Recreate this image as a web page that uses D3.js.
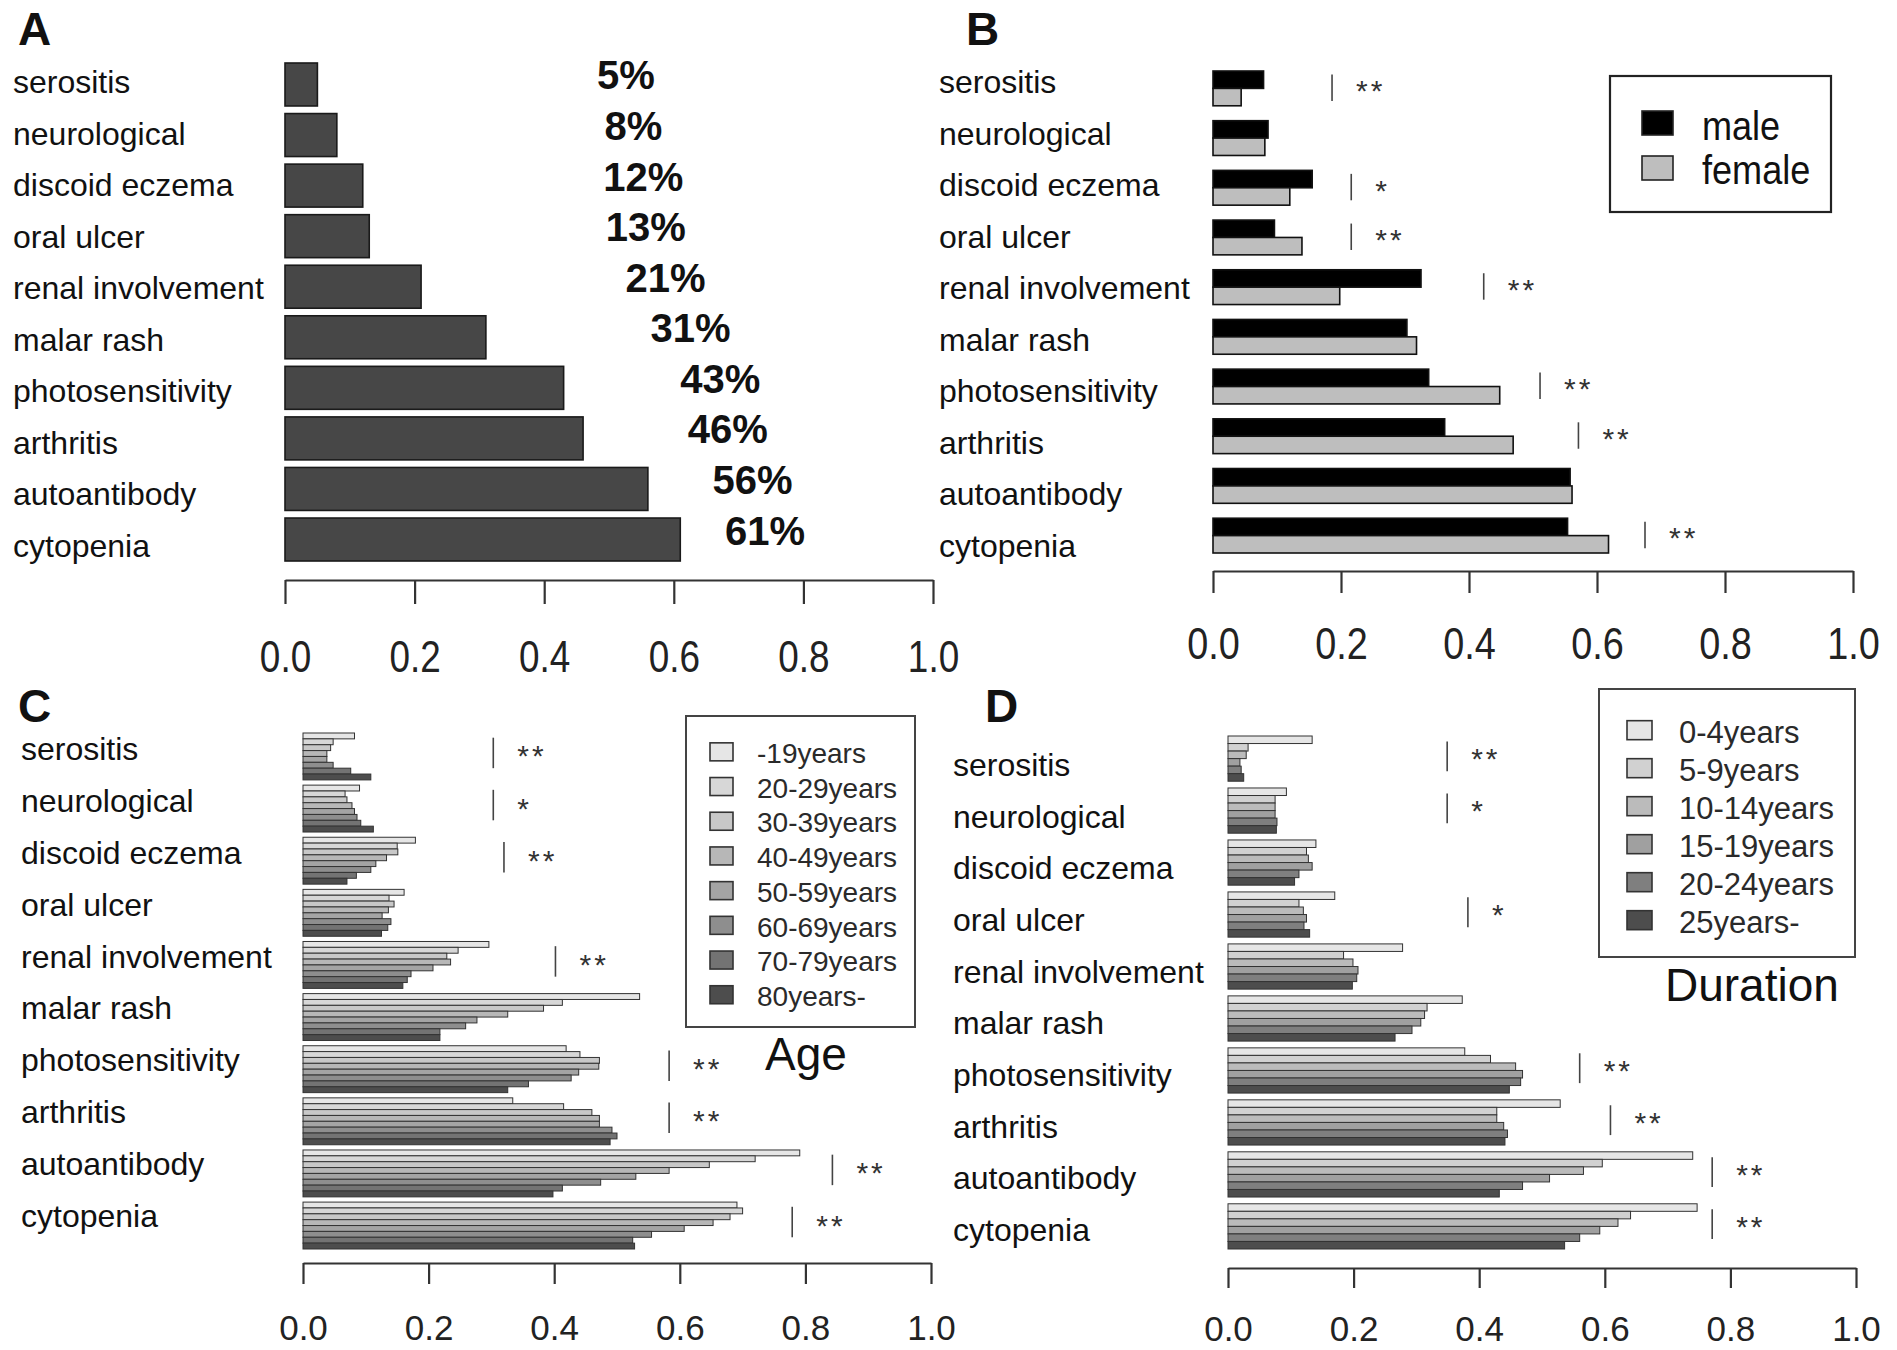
<!DOCTYPE html>
<html>
<head>
<meta charset="utf-8">
<script src="https://cdn.jsdelivr.net/npm/d3@7"></script>
<style>
  body { margin: 0; background: #fff; }
  svg text { font-family: "Liberation Sans", Arial, sans-serif; }
</style>
</head>
<body>
<svg id="fig" width="1897" height="1350"></svg>
<script>
// ---- data ----
const categories = ["serositis", "neurological", "discoid eczema", "oral ulcer", "renal involvement",
	"malar rash", "photosensitivity", "arthritis", "autoantibody", "cytopenia"];
const ticks = [0, 0.2, 0.4, 0.6, 0.8, 1.0];

// A: overall prevalence
const overall = [0.05, 0.08, 0.12, 0.13, 0.21, 0.31, 0.43, 0.46, 0.56, 0.61];

// B: by sex
const sexGroups = ["male", "female"];
const male   = [0.079, 0.086, 0.155, 0.096, 0.325, 0.303, 0.337, 0.362, 0.558, 0.554];
const female = [0.044, 0.081, 0.120, 0.139, 0.198, 0.318, 0.448, 0.469, 0.561, 0.618];
const sexSig   = ["**", "", "*", "**", "**", "", "**", "**", "", "**"];
const sexSigAt = [0.186, null, 0.216, 0.216, 0.423, null, 0.511, 0.571, null, 0.675];

// C: by age
const ageGroups = ["-19years", "20-29years", "30-39years", "40-49years", "50-59years",
	"60-69years", "70-79years", "80years-"];
const ageSeries = [
	[0.082, 0.090, 0.179, 0.161, 0.296, 0.536, 0.419, 0.334, 0.791, 0.691],
	[0.048, 0.067, 0.150, 0.137, 0.247, 0.413, 0.441, 0.415, 0.720, 0.700],
	[0.044, 0.070, 0.151, 0.145, 0.229, 0.383, 0.472, 0.460, 0.647, 0.680],
	[0.038, 0.078, 0.133, 0.136, 0.235, 0.326, 0.471, 0.472, 0.583, 0.653],
	[0.038, 0.082, 0.116, 0.126, 0.207, 0.277, 0.439, 0.472, 0.530, 0.607],
	[0.048, 0.086, 0.108, 0.140, 0.172, 0.259, 0.427, 0.492, 0.474, 0.555],
	[0.076, 0.092, 0.085, 0.135, 0.166, 0.218, 0.359, 0.500, 0.413, 0.525],
	[0.108, 0.112, 0.070, 0.125, 0.159, 0.218, 0.326, 0.489, 0.398, 0.528]
];
const ageSig   = ["**", "*", "**", "", "**", "", "**", "**", "**", "**"];
const ageSigAt = [0.303, 0.303, 0.320, null, 0.402, null, 0.583, 0.583, 0.843, 0.779];

// D: by disease duration
const durGroups = ["0-4years", "5-9years", "10-14years", "15-19years", "20-24years", "25years-"];
const durSeries = [
	[0.134, 0.093, 0.140, 0.170, 0.278, 0.373, 0.377, 0.529, 0.740, 0.747],
	[0.032, 0.075, 0.125, 0.113, 0.184, 0.317, 0.418, 0.428, 0.596, 0.641],
	[0.029, 0.075, 0.128, 0.120, 0.199, 0.313, 0.458, 0.428, 0.566, 0.621],
	[0.019, 0.075, 0.134, 0.125, 0.207, 0.307, 0.469, 0.439, 0.512, 0.592],
	[0.021, 0.078, 0.113, 0.121, 0.205, 0.293, 0.466, 0.445, 0.469, 0.560],
	[0.025, 0.077, 0.106, 0.130, 0.198, 0.266, 0.448, 0.441, 0.432, 0.536]
];
const durSig   = ["**", "*", "", "*", "", "", "**", "**", "**", "**"];
const durSigAt = [0.349, 0.349, null, 0.382, null, null, 0.560, 0.609, 0.771, 0.771];

// grey ramps like R's gray.colors(n), light to dark
const ageColors = ["#e6e6e6", "#d7d7d7", "#c8c8c8", "#b7b7b7", "#a4a4a4", "#8e8e8e", "#737373", "#4d4d4d"];
const durColors = ["#e6e6e6", "#d1d1d1", "#bbbbbb", "#a0a0a0", "#7f7f7f", "#4d4d4d"];

const svg = d3.select("#fig");
svg.append("rect").attr("width", 1897).attr("height", 1350).attr("fill", "#fff");

function panelLetter(t, x, y) {
	svg.append("text").attr("x", x).attr("y", y).attr("font-size", 46)
		.attr("font-weight", "bold").attr("fill", "#111").text(t);
}

function categoryLabels(x, labelY) {
	svg.append("g").selectAll("text")
		.data(categories).enter().append("text")
		.attr("x", x)
		.attr("y", d => labelY(d))
		.attr("font-size", 32)
		.attr("fill", "#111")
		.text(d => d);
}

function bottomAxis(x, lineY, tickLen, baseline, fs, sx) {
	const pad = baseline - lineY - tickLen - 0.71 * fs;
	const ax = svg.append("g")
		.attr("transform", "translate(0," + lineY + ")")
		.call(d3.axisBottom(x).tickValues(ticks).tickFormat(d3.format(".1f"))
			.tickSize(tickLen).tickSizeOuter(0).tickPadding(pad));
	ax.attr("font-size", null).attr("font-family", null);
	ax.select(".domain").attr("stroke", "#333").attr("stroke-width", 2.2);
	ax.selectAll(".tick line").attr("stroke", "#333").attr("stroke-width", 2.2);
	ax.selectAll(".tick text")
		.attr("font-size", fs)
		.attr("fill", "#222")
		.attr("transform", "scale(" + sx + ",1)");
}

// significance marks: a thin bar and stars to its right
function sigMarks(x, y, sig, sigAt, lineTop, lineBot, starMid) {
	const bw = y.bandwidth();
	const rows = categories.map((c, i) => ({ c: c, s: sig[i], at: sigAt[i] }))
		.filter(d => d.s !== "");
	const g = svg.append("g");
	g.selectAll("line").data(rows).enter().append("line")
		.attr("x1", d => x(d.at)).attr("x2", d => x(d.at))
		.attr("y1", d => y(d.c) + lineTop * bw)
		.attr("y2", d => y(d.c) + lineBot * bw)
		.attr("stroke", "#444").attr("stroke-width", 1.6);
	g.selectAll("text").data(rows).enter().append("text")
		.attr("x", d => x(d.at) + 24)
		.attr("y", d => y(d.c) + starMid * bw + 17)
		.attr("font-size", 30)
		.attr("letter-spacing", 3)
		.attr("fill", "#333")
		.text(d => d.s);
}

// ================= A =================
panelLetter("A", 18, 45);
const xA = d3.scaleLinear().domain([0, 1]).range([285, 933]);
const yA = d3.scaleBand().domain(categories).range([63, 561]).paddingInner(0.15);
const labA = d3.scalePoint().domain(categories).range([93, 556.5]);
categoryLabels(13, labA);

svg.append("g").selectAll("rect")
	.data(overall).enter().append("rect")
	.attr("x", xA(0))
	.attr("y", (d, i) => yA(categories[i]))
	.attr("width", d => xA(d) - xA(0))
	.attr("height", yA.bandwidth())
	.attr("fill", "#474747")
	.attr("stroke", "#1a1a1a")
	.attr("stroke-width", 1.6);

svg.append("g").selectAll("text")
	.data(overall).enter().append("text")
	.attr("x", d => xA(0.507 + 0.383 * d))
	.attr("y", (d, i) => yA(categories[i]) + yA.bandwidth() / 2 + 5)
	.attr("text-anchor", "middle")
	.attr("font-family", "Lato, 'Liberation Sans', sans-serif")
	.attr("font-weight", "bold")
	.attr("font-size", 40)
	.attr("fill", "#111")
	.text(d => Math.round(d * 100) + "%");

bottomAxis(xA, 580, 24, 672, 45, 0.82);

// ================= B =================
panelLetter("B", 966, 45);
const xB = d3.scaleLinear().domain([0, 1]).range([1213, 1853]);
const yB = d3.scaleBand().domain(categories).range([71, 553]).paddingInner(0.3);
const subB = d3.scaleBand().domain(sexGroups).range([0, yB.bandwidth()]);
const labB = d3.scalePoint().domain(categories).range([93, 556.5]);
const sexColor = d3.scaleOrdinal().domain(sexGroups).range(["#000000", "#bebebe"]);
categoryLabels(939, labB);

const sexRows = [];
categories.forEach((c, i) => {
	sexRows.push({ c: c, g: "male", v: male[i] });
	sexRows.push({ c: c, g: "female", v: female[i] });
});
svg.append("g").selectAll("rect")
	.data(sexRows).enter().append("rect")
	.attr("x", xB(0))
	.attr("y", d => yB(d.c) + subB(d.g))
	.attr("width", d => xB(d.v) - xB(0))
	.attr("height", subB.bandwidth())
	.attr("fill", d => sexColor(d.g))
	.attr("stroke", "#111")
	.attr("stroke-width", 1.6);

sigMarks(xB, yB, sexSig, sexSigAt, 0.1, 0.86, 0.38);
bottomAxis(xB, 571, 22, 659, 44, 0.86);

// legend B
const legB = svg.append("g");
legB.append("rect").attr("x", 1610).attr("y", 76).attr("width", 221).attr("height", 136)
	.attr("fill", "none").attr("stroke", "#222").attr("stroke-width", 2.2);
legB.selectAll(".sw").data(sexGroups).enter().append("rect")
	.attr("x", 1642).attr("y", (d, i) => 111 + i * 45)
	.attr("width", 31).attr("height", 24)
	.attr("fill", d => sexColor(d)).attr("stroke", "#222").attr("stroke-width", 1.6);
legB.selectAll("text").data(sexGroups).enter().append("text")
	.attr("transform", (d, i) => "translate(1702," + (140 + i * 44) + ") scale(0.88,1)")
	.attr("font-size", 41).attr("fill", "#111")
	.text(d => d);

// grouped many-bar panels (C and D)
function groupedPanel(x, y, groups, series, colors) {
	const sub = d3.scaleBand().domain(groups).range([0, y.bandwidth()]);
	const rows = [];
	series.forEach((vals, j) => {
		vals.forEach((v, i) => rows.push({ c: categories[i], g: groups[j], v: v, col: colors[j] }));
	});
	svg.append("g").selectAll("rect")
		.data(rows).enter().append("rect")
		.attr("x", x(0))
		.attr("y", d => y(d.c) + sub(d.g))
		.attr("width", d => x(d.v) - x(0))
		.attr("height", sub.bandwidth())
		.attr("fill", d => d.col)
		.attr("stroke", "#333")
		.attr("stroke-width", 1);
}

function boxLegend(x0, y0, w, h, sx, sw, sh, tx, base, step, groups, colors, fs) {
	const g = svg.append("g");
	g.append("rect").attr("x", x0).attr("y", y0).attr("width", w).attr("height", h)
		.attr("fill", "none").attr("stroke", "#444").attr("stroke-width", 2);
	g.selectAll(".sw").data(groups).enter().append("rect")
		.attr("x", sx).attr("y", (d, i) => base - fs * 0.72 + i * step)
		.attr("width", sw).attr("height", sh)
		.attr("fill", (d, i) => colors[i]).attr("stroke", "#333").attr("stroke-width", 1.6);
	g.selectAll("text").data(groups).enter().append("text")
		.attr("x", tx).attr("y", (d, i) => base + i * step)
		.attr("font-size", fs).attr("fill", "#2a2a2a")
		.text(d => d);
}

// ================= C =================
panelLetter("C", 18, 722);
const xC = d3.scaleLinear().domain([0, 1]).range([303, 931]);
const yC = d3.scaleBand().domain(categories).range([733, 1249]).paddingInner(0.1);
const labC = d3.scalePoint().domain(categories).range([760, 1227]);
categoryLabels(21, labC);
groupedPanel(xC, yC, ageGroups, ageSeries, ageColors);
sigMarks(xC, yC, ageSig, ageSigAt, 0.1, 0.75, 0.35);
bottomAxis(xC, 1263, 21, 1340, 35, 1);
boxLegend(686, 716, 229, 311, 710, 23, 18, 757, 763, 34.7, ageGroups, ageColors, 28);
svg.append("text").attr("x", 765).attr("y", 1070).attr("font-size", 46).attr("fill", "#111").text("Age");

// ================= D =================
panelLetter("D", 985, 722);
const xD = d3.scaleLinear().domain([0, 1]).range([1228, 1856]);
const yD = d3.scaleBand().domain(categories).range([736, 1249]).paddingInner(0.13);
const labD = d3.scalePoint().domain(categories).range([776, 1241]);
categoryLabels(953, labD);
groupedPanel(xD, yD, durGroups, durSeries, durColors);
sigMarks(xD, yD, durSig, durSigAt, 0.12, 0.78, 0.35);
bottomAxis(xD, 1268, 20, 1341, 35, 1);
boxLegend(1599, 689, 256, 268, 1627, 25, 19, 1679, 743, 38, durGroups, durColors, 31);
svg.append("text").attr("x", 1665).attr("y", 1001).attr("font-size", 46).attr("fill", "#111").text("Duration");
</script>
</body>
</html>
